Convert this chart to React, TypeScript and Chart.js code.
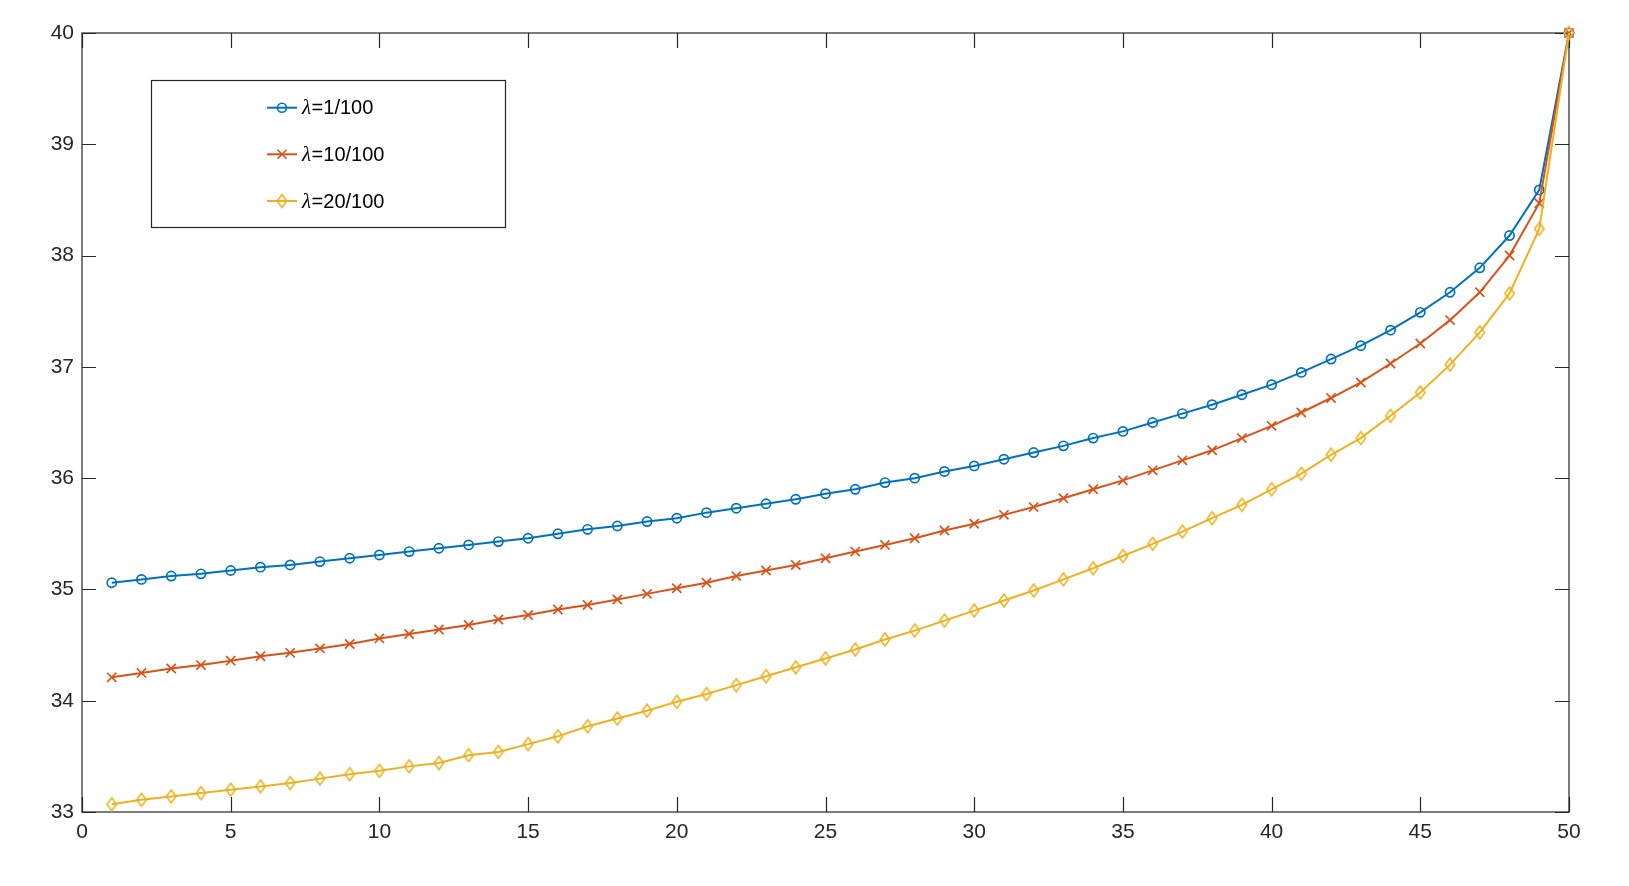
import React, { useEffect, useRef } from "react";
import { Chart, registerables } from "chart.js";
Chart.register(...registerables);

const xValues = [
  1, 2, 3, 4, 5, 6, 7, 8, 9, 10, 11, 12, 13, 14, 15, 16, 17, 18, 19, 20, 21, 22, 23, 24, 25,
  26, 27, 28, 29, 30, 31, 32, 33, 34, 35, 36, 37, 38, 39, 40, 41, 42, 43, 44, 45, 46, 47, 48, 49, 50,
];

const seriesLabels = ["λ=1/100", "λ=10/100", "λ=20/100"];

const lambda1 = [
  35.06, 35.09, 35.12, 35.14, 35.17, 35.2, 35.22, 35.25, 35.28, 35.31,
  35.34, 35.37, 35.4, 35.43, 35.46, 35.5, 35.54, 35.57, 35.61, 35.64,
  35.69, 35.73, 35.77, 35.81, 35.86, 35.9, 35.96, 36.0, 36.06, 36.11,
  36.17, 36.23, 36.29, 36.36, 36.42, 36.5, 36.58, 36.66, 36.75, 36.84,
  36.95, 37.07, 37.19, 37.33, 37.49, 37.67, 37.89, 38.18, 38.59, 40.0,
];

const lambda10 = [
  34.21, 34.25, 34.29, 34.32, 34.36, 34.4, 34.43, 34.47, 34.51, 34.56,
  34.6, 34.64, 34.68, 34.73, 34.77, 34.82, 34.86, 34.91, 34.96, 35.01,
  35.06, 35.12, 35.17, 35.22, 35.28, 35.34, 35.4, 35.46, 35.53, 35.59,
  35.67, 35.74, 35.82, 35.9, 35.98, 36.07, 36.16, 36.25, 36.36, 36.47,
  36.59, 36.72, 36.86, 37.03, 37.21, 37.42, 37.67, 38.0, 38.47, 40.0,
];

const lambda20 = [
  33.07, 33.11, 33.14, 33.17, 33.2, 33.23, 33.26, 33.3, 33.34, 33.37,
  33.41, 33.44, 33.51, 33.54, 33.61, 33.68, 33.77, 33.84, 33.91, 33.99,
  34.06, 34.14, 34.22, 34.3, 34.38, 34.46, 34.55, 34.63, 34.72, 34.81,
  34.9, 34.99, 35.09, 35.19, 35.3, 35.41, 35.52, 35.64, 35.76, 35.9,
  36.04, 36.21, 36.36, 36.56, 36.77, 37.02, 37.31, 37.66, 38.24, 40.0,
];

const xTicks = [0, 5, 10, 15, 20, 25, 30, 35, 40, 45, 50];
const yTicks = [33, 34, 35, 36, 37, 38, 39, 40];

const COLORS = ["#0072BD", "#D95319", "#EDB120"];
const AXIS_COLOR = "#262626";
const SANS = '"Liberation Sans", Arial, Helvetica, sans-serif';

function makeDiamond(color: string, w: number, h: number, lw: number) {
  const c = document.createElement("canvas");
  const pad = Math.ceil(lw) + 1;
  c.width = Math.ceil(w) + pad * 2;
  c.height = Math.ceil(h) + pad * 2;
  const ctx = c.getContext("2d")!;
  ctx.strokeStyle = color;
  ctx.lineWidth = lw;
  const cx = c.width / 2;
  const cy = c.height / 2;
  ctx.beginPath();
  ctx.moveTo(cx, cy - h / 2);
  ctx.lineTo(cx + w / 2, cy);
  ctx.lineTo(cx, cy + h / 2);
  ctx.lineTo(cx - w / 2, cy);
  ctx.closePath();
  ctx.stroke();
  return c;
}

function drawMarker(ctx: CanvasRenderingContext2D, kind: number, x: number, y: number, color: string, diamond: HTMLCanvasElement) {
  ctx.save();
  ctx.strokeStyle = color;
  ctx.lineWidth = 1.6;
  if (kind === 0) {
    ctx.beginPath();
    ctx.arc(x, y, 4.5, 0, Math.PI * 2);
    ctx.stroke();
  } else if (kind === 1) {
    const r = 4.5;
    ctx.beginPath();
    ctx.moveTo(x - r, y - r);
    ctx.lineTo(x + r, y + r);
    ctx.moveTo(x + r, y - r);
    ctx.lineTo(x - r, y + r);
    ctx.stroke();
  } else {
    ctx.drawImage(diamond, x - diamond.width / 2, y - diamond.height / 2);
  }
  ctx.restore();
}

export default function App() {
  const canvasRef = useRef<HTMLCanvasElement | null>(null);

  useEffect(() => {
    const canvas = canvasRef.current;
    if (!canvas) return;
    const diamond = makeDiamond(COLORS[2], 9.5, 13, 1.6);

    const framePlugin = {
      id: "matlabFrame",
      beforeDatasetsDraw(chart: any) {
        const { ctx, chartArea } = chart;
        const { left, right, top, bottom } = chartArea;
        const xs = chart.scales.x;
        const ys = chart.scales.y;
        ctx.save();
        ctx.strokeStyle = AXIS_COLOR;
        ctx.lineWidth = 1.2;
        ctx.strokeRect(left, top, right - left, bottom - top);
        ctx.beginPath();
        xTicks.forEach((t) => {
          const px = Math.round(xs.getPixelForValue(t)) + 0.5;
          ctx.moveTo(px, bottom);
          ctx.lineTo(px, bottom - 15);
          ctx.moveTo(px, top);
          ctx.lineTo(px, top + 15);
        });
        yTicks.forEach((t) => {
          const py = Math.round(ys.getPixelForValue(t)) + 0.5;
          ctx.moveTo(left, py);
          ctx.lineTo(left + 14, py);
          ctx.moveTo(right, py);
          ctx.lineTo(right - 14, py);
        });
        ctx.stroke();
        ctx.restore();
      },
    };

    const legendPlugin = {
      id: "matlabLegend",
      afterDraw(chart: any) {
        const { ctx } = chart;
        const boxL = 151, boxT = 80, boxR = 505, boxB = 227;
        ctx.save();
        ctx.fillStyle = "#ffffff";
        ctx.fillRect(boxL, boxT, boxR - boxL, boxB - boxT);
        ctx.strokeStyle = AXIS_COLOR;
        ctx.lineWidth = 1.2;
        ctx.strokeRect(boxL + 0.5, boxT + 0.5, boxR - boxL, boxB - boxT);
        const rows = [107.7, 154.3, 201];
        chart.data.datasets.forEach((ds: any, i: number) => {
          const y = rows[i];
          ctx.strokeStyle = COLORS[i];
          ctx.lineWidth = 2;
          ctx.beginPath();
          ctx.moveTo(267, y);
          ctx.lineTo(297, y);
          ctx.stroke();
          drawMarker(ctx, i, 282, y, COLORS[i], diamond);
          const label: string = ds.label;
          const lam = label.charAt(0);
          const rest = label.slice(1);
          ctx.fillStyle = "#000000";
          ctx.textBaseline = "middle";
          ctx.textAlign = "left";
          ctx.font = 'italic 21px "Liberation Serif", "DejaVu Serif", serif';
          ctx.fillText(lam, 302, y + 1);
          const w = ctx.measureText(lam).width;
          ctx.font = "20px " + SANS;
          ctx.fillText(rest, 302 + w + 0.5, y + 1);
        });
        ctx.restore();
      },
    };

    const mk = (vals: number[]) => xValues.map((x, i) => ({ x, y: vals[i] }));

    const chart = new Chart(canvas, {
      type: "line",
      data: {
        datasets: [
          {
            label: seriesLabels[0],
            data: mk(lambda1),
            borderColor: COLORS[0],
            backgroundColor: "rgba(0,0,0,0)",
            borderWidth: 2,
            pointStyle: "circle",
            pointRadius: 4.6,
            pointBorderWidth: 1.7,
            pointBorderColor: COLORS[0],
            pointBackgroundColor: "rgba(0,0,0,0)",
            tension: 0,
            clip: false as any,
            order: 2,
          },
          {
            label: seriesLabels[1],
            data: mk(lambda10),
            borderColor: COLORS[1],
            backgroundColor: "rgba(0,0,0,0)",
            borderWidth: 2,
            pointStyle: "crossRot",
            pointRadius: 6.5,
            pointBorderWidth: 1.7,
            pointBorderColor: COLORS[1],
            pointBackgroundColor: "rgba(0,0,0,0)",
            tension: 0,
            clip: false as any,
            order: 1,
          },
          {
            label: seriesLabels[2],
            data: mk(lambda20),
            borderColor: COLORS[2],
            backgroundColor: "rgba(0,0,0,0)",
            borderWidth: 2,
            pointStyle: diamond as any,
            pointRadius: 6,
            tension: 0,
            clip: false as any,
            order: 0,
          },
        ],
      },
      options: {
        responsive: false,
        animation: false,
        events: [],
        layout: { padding: { left: 0, top: 33, right: 60, bottom: 0 } },
        plugins: {
          legend: { display: false },
          tooltip: { enabled: false },
          title: { display: false },
        },
        scales: {
          x: {
            type: "linear",
            min: 0,
            max: 50,
            afterBuildTicks: (scale: any) => {
              scale.ticks = xTicks.map((v) => ({ value: v }));
            },
            afterFit: (scale: any) => {
              scale.height = 74;
              scale.paddingLeft = 0;
              scale.paddingRight = 0;
            },
            grid: { display: false, drawTicks: false },
            border: { display: false },
            ticks: {
              color: AXIS_COLOR,
              font: { family: SANS, size: 21 },
              padding: 8,
              maxRotation: 0,
              autoSkip: false,
            },
          },
          y: {
            type: "linear",
            min: 33,
            max: 40,
            afterBuildTicks: (scale: any) => {
              scale.ticks = yTicks.map((v) => ({ value: v }));
            },
            afterFit: (scale: any) => {
              scale.width = 82;
              scale.paddingTop = 0;
              scale.paddingBottom = 0;
            },
            grid: { display: false, drawTicks: false },
            border: { display: false },
            ticks: {
              color: AXIS_COLOR,
              font: { family: SANS, size: 21 },
              padding: 8,
              autoSkip: false,
            },
          },
        },
      },
      plugins: [framePlugin, legendPlugin],
    });

    return () => {
      chart.destroy();
    };
  }, []);

  return (
    <div style={{ position: "absolute", left: 0, top: 0, width: 1629, height: 886, background: "#ffffff" }}>
      <canvas ref={canvasRef} width={1629} height={886} style={{ display: "block" }} />
    </div>
  );
}
